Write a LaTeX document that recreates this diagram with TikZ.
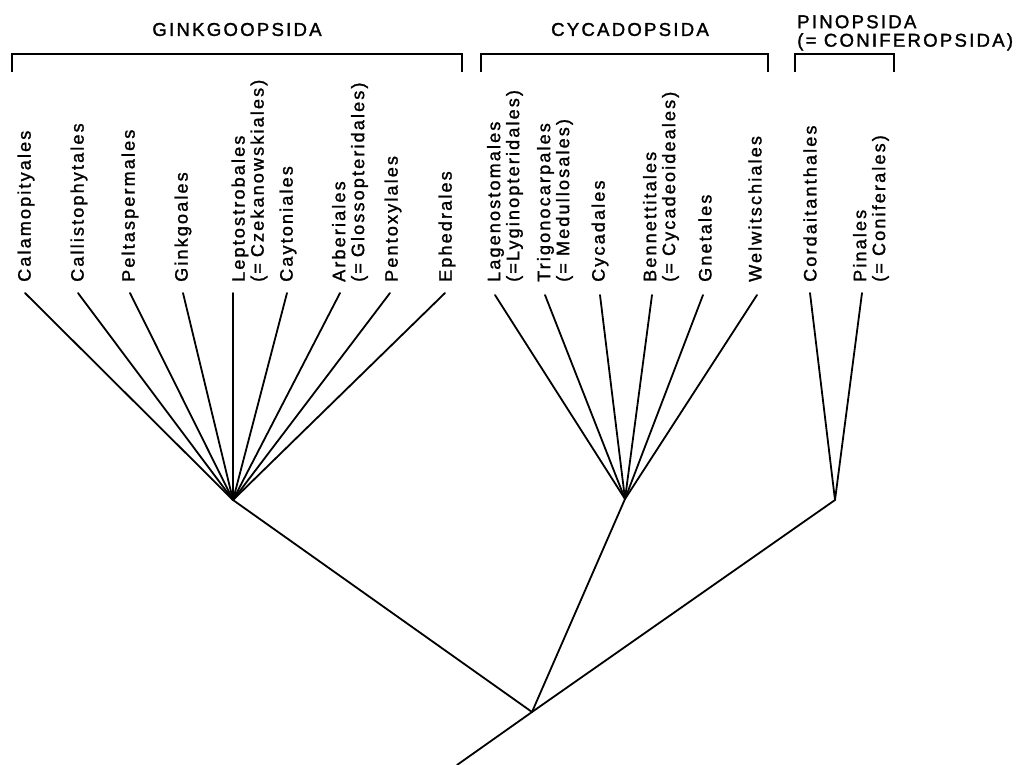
\documentclass[tikz,border=0pt]{standalone}
\usepackage{fontspec}
\setmainfont{Liberation Sans}
\newfontfamily\labfont[LetterSpace=12,FakeBold=1.4]{Liberation Sans}
\newfontfamily\headfont[LetterSpace=12,FakeBold=1.5]{Liberation Sans}
\begin{document}
\begin{tikzpicture}[x=1pt,y=-1pt,
  bracket/.style={line width=1.6pt},
  branch/.style={line width=1.8pt, line cap=round},
  taxon/.style={rotate=90, anchor=west, inner sep=0pt, align=left,
    font=\labfont\fontsize{18}{19}\selectfont},
  grp/.style={inner sep=0pt, align=left, font=\headfont\fontsize{18.6}{18.5}\selectfont}]
\useasboundingbox (0,0) rectangle (1021,765);
\fill[white] (0,0) rectangle (1021,765);

% group headings
\node[grp] (hG) at (237,29.5) {GINKGOOPSIDA};
\node[grp] (hC) at (630,29.5) {CYCADOPSIDA};
\node[grp, anchor=north west] (hP) at (797,15) {PINOPSIDA\\(= CONIFEROPSIDA)};

% brackets
\draw[bracket] (12,72) -- (12,54) -- (462,54) -- (462,72);
\draw[bracket] (481,72) -- (481,54) -- (768,54) -- (768,72);
\draw[bracket] (795,72) -- (795,54) -- (894,54) -- (894,72);

% junctions
\coordinate (root) at (457,765);
\coordinate (J0) at (532,712);
\coordinate (JG) at (233,500);
\coordinate (JC) at (625,499);
\coordinate (JP) at (835,500);

% Ginkgoopsida taxa
\foreach \n/\lx/\tx/\txt in {
  g1/25/26/{Calamopityales},
  g2/78/79/{Callistophytales},
  g3/130/130/{Peltaspermales},
  g4/183/183/{Ginkgoales},
  g5/233/249.5/{Leptostrobales\\(=\,\,Czekanowskiales)},
  g6/287/288/{Caytoniales},
  g7/340/350/{Arberiales\\(=\,\,Glossopteridales)},
  g8/390/393/{Pentoxylales},
  g9/445/447/{Ephedrales}} {
  \coordinate (\n) at (\lx,293);
  \node[taxon] (t\n) at (\tx,282) {\txt};
  \draw[branch] (\n) -- (JG);
}

% Cycadopsida taxa
\foreach \n/\lx/\tx/\txt in {
  c1/495/505/{Lagenostomales\\(=Lyginopteridales)},
  c2/545/555/{Trigonocarpales\\(= Medullosales)},
  c3/600/600/{Cycadales},
  c4/652/661/{Bennettitales\\(= Cycadeoideales)},
  c5/703/705/{Gnetales},
  c6/757/755/{Welwitschiales}} {
  \coordinate (\n) at (\lx,295);
  \node[taxon] (t\n) at (\tx,282) {\txt};
  \draw[branch] (\n) -- (JC);
}

% Pinopsida taxa
\foreach \n/\lx/\tx/\txt in {
  p1/810/810/{Cordaitanthales},
  p2/862/871/{Pinales\\(= Coniferales)}} {
  \coordinate (\n) at (\lx,293);
  \node[taxon] (t\n) at (\tx,282) {\txt};
  \draw[branch] (\n) -- (JP);
}

% backbone
\draw[branch] (JG) -- (J0);
\draw[branch] (JC) -- (J0);
\draw[branch] (JP) -- (J0) -- (root);
\end{tikzpicture}
\end{document}
